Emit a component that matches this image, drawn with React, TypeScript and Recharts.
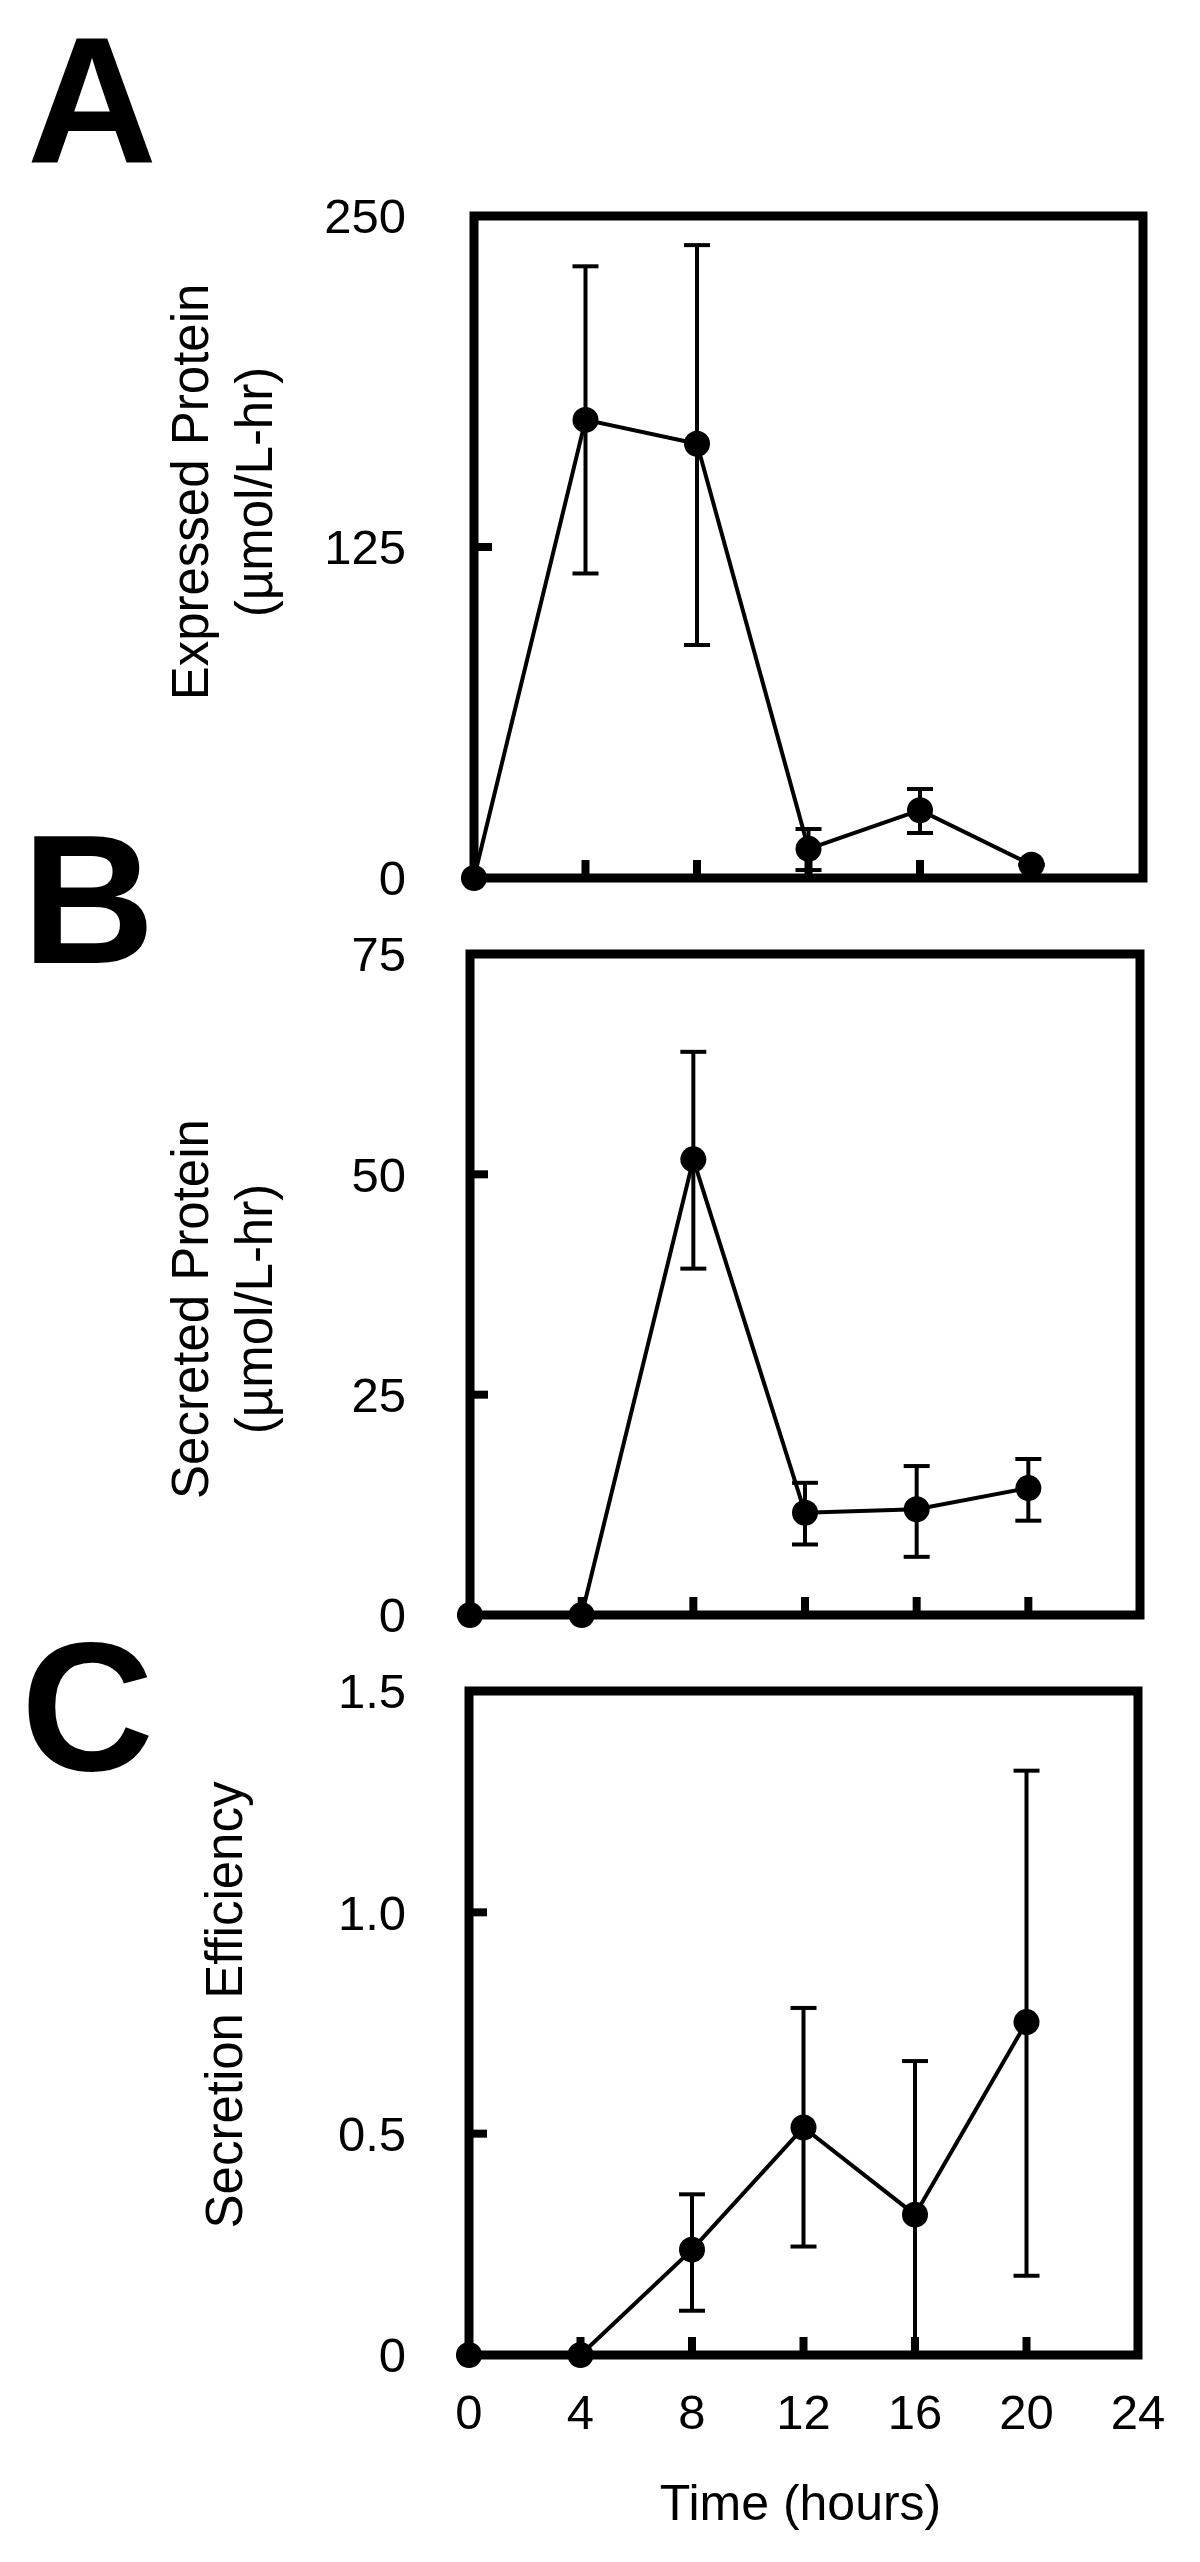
import React from 'react';
import { LineChart, Line, XAxis, YAxis, ErrorBar, ReferenceArea } from 'recharts';

// ---------- data ----------
const timeHours = [0, 4, 8, 12, 16, 20];

const expressedMean = [0, 173, 164, 11, 25.6, 5];
const expressedLow = [0, 115, 88, 3, 17, 5];
const expressedHigh = [0, 231, 239, 18.5, 33.6, 5];

const secretedMean = [0, 0, 51.7, 11.6, 12.0, 14.4];
const secretedLow = [0, 0, 39.3, 8, 6.6, 10.7];
const secretedHigh = [0, 0, 63.9, 15, 16.9, 17.7];

const efficiencyMean = [0, 0, 0.238, 0.514, 0.317, 0.752];
const efficiencyLow = [0, 0, 0.1, 0.245, 0, 0.179];
const efficiencyHigh = [0, 0, 0.363, 0.784, 0.664, 1.32];

const xTicks = [0, 4, 8, 12, 16, 20, 24];
const expressedTicks = [0, 125, 250];
const expressedTickLabels = ['0', '125', '250'];
const secretedTicks = [0, 25, 50, 75];
const secretedTickLabels = ['0', '25', '50', '75'];
const efficiencyTicks = [0, 0.5, 1.0, 1.5];
const efficiencyTickLabels = ['0', '0.5', '1.0', '1.5'];

const panelLetters = ['A', 'B', 'C'];
const expressedTitle = ['Expressed Protein', '(µmol/L-hr)'];
const secretedTitle = ['Secreted Protein', '(µmol/L-hr)'];
const efficiencyTitle = ['Secretion Efficiency'];
const xTitle = 'Time (hours)';

// ---------- styling ----------
const FONT = '"Liberation Sans", Arial, Helvetica, sans-serif';
const TICK_FONT = 49;
const LABEL_FONT = 51;
const FRAME_W = 9;
const TICK_LEN = 18;
const TICK_W = 8;
const LABEL_RIGHT = 406;
const X_LABEL_MARGIN = 39;

type Frame = { left: number; right: number; top: number; bottom: number };

function buildRows(mean: number[], low: number[], high: number[]) {
  return timeHours.map((t, i) => ({
    t,
    mean: mean[i],
    err: [mean[i] - low[i], high[i] - mean[i]],
  }));
}

type PanelProps = {
  data: { t: number; mean: number; err: number[] }[];
  yDomain: [number, number];
  yTicks: number[];
  yTickLabels: string[];
  frame: Frame;
  chartTop: number;
  chartHeight: number;
  showXLabels: boolean;
  titleLines: string[];
  titleBaselines: number[];
  titleCenterY: number;
};

function Panel(p: PanelProps) {
  const { frame, chartTop, chartHeight } = p;
  const yMargin = frame.left - LABEL_RIGHT;
  const xAxisHeight = chartTop + chartHeight - frame.bottom;

  const YTick = (props: any) => {
    const { x, y, payload } = props;
    const idx = p.yTicks.indexOf(payload.value);
    const lx = x + yMargin;
    return (
      <g>
        <line x1={lx} x2={lx + TICK_LEN} y1={y} y2={y} stroke="#000" strokeWidth={TICK_W} />
        <text x={x} y={y} dy="0.355em" textAnchor="end" fontSize={TICK_FONT} fontFamily={FONT} fill="#000">
          {idx >= 0 ? p.yTickLabels[idx] : String(payload.value)}
        </text>
      </g>
    );
  };

  const XTick = (props: any) => {
    const { x, y, payload } = props;
    const ly = y - X_LABEL_MARGIN;
    return (
      <g>
        <line x1={x} x2={x} y1={ly} y2={ly - TICK_LEN} stroke="#000" strokeWidth={TICK_W} />
        {p.showXLabels ? (
          <text x={x} y={y + 35} textAnchor="middle" fontSize={TICK_FONT} fontFamily={FONT} fill="#000">
            {String(payload.value)}
          </text>
        ) : null}
      </g>
    );
  };

  const YTitle = () => {
    const cy = p.titleCenterY - chartTop;
    return (
      <g>
        {p.titleLines.map((line, i) => (
          <text
            key={i}
            x={p.titleBaselines[i]}
            y={cy}
            transform={`rotate(-90, ${p.titleBaselines[i]}, ${cy})`}
            textAnchor="middle"
            fontSize={LABEL_FONT}
            fontFamily={FONT}
            fill="#000"
          >
            {line}
          </text>
        ))}
      </g>
    );
  };

  const XTitle = () => {
    if (!p.showXLabels) return null;
    const cx = (frame.left + frame.right) / 2 - 3;
    const y = 2520 - chartTop;
    return (
      <text x={cx} y={y} textAnchor="middle" fontSize={50} fontFamily={FONT} fill="#000">
        {xTitle}
      </text>
    );
  };

  return (
    <div style={{ position: 'absolute', left: 0, top: chartTop }}>
      <LineChart
        width={1200}
        height={chartHeight}
        data={p.data}
        margin={{ top: frame.top - chartTop, right: 1200 - frame.right, left: 0, bottom: 0 }}
      >
        <ReferenceArea
          x1={0}
          x2={24}
          y1={p.yDomain[0]}
          y2={p.yDomain[1]}
          fill="none"
          stroke="#000"
          strokeWidth={FRAME_W}
          ifOverflow="visible"
        />
        <XAxis
          type="number"
          dataKey="t"
          domain={[0, 24]}
          ticks={xTicks}
          interval={0}
          height={xAxisHeight}
          axisLine={false}
          tickLine={false}
          tickSize={0}
          tickMargin={X_LABEL_MARGIN}
          tick={XTick}
          label={{ content: XTitle }}
        />
        <YAxis
          type="number"
          domain={p.yDomain}
          ticks={p.yTicks}
          interval={0}
          width={frame.left}
          axisLine={false}
          tickLine={false}
          tickSize={0}
          tickMargin={yMargin}
          tick={YTick}
          label={{ content: YTitle }}
        />
        <Line
          dataKey="mean"
          stroke="#000"
          strokeWidth={4}
          dot={{ r: 13, fill: '#000', stroke: '#000', strokeWidth: 0 }}
          activeDot={false}
          isAnimationActive={false}
        >
          <ErrorBar dataKey="err" direction="y" width={13} stroke="#000" strokeWidth={4} isAnimationActive={false} />
        </Line>
      </LineChart>
    </div>
  );
}

export default function App() {
  const letterBaselines = [163, 963, 1770];
  const letterX = [27, 22, 21];
  const letterSizes = [180, 184, 184];
  return (
    <div style={{ position: 'absolute', left: 0, top: 0, width: 1200, height: 2562, background: '#fff' }}>
      <Panel
        data={buildRows(expressedMean, expressedLow, expressedHigh)}
        yDomain={[0, 250]}
        yTicks={expressedTicks}
        yTickLabels={expressedTickLabels}
        frame={{ left: 474, right: 1143, top: 216, bottom: 878 }}
        chartTop={160}
        chartHeight={790}
        showXLabels={false}
        titleLines={expressedTitle}
        titleBaselines={[208, 272]}
        titleCenterY={492}
      />
      <Panel
        data={buildRows(secretedMean, secretedLow, secretedHigh)}
        yDomain={[0, 75]}
        yTicks={secretedTicks}
        yTickLabels={secretedTickLabels}
        frame={{ left: 470, right: 1140, top: 954, bottom: 1615 }}
        chartTop={900}
        chartHeight={790}
        showXLabels={false}
        titleLines={secretedTitle}
        titleBaselines={[208, 272]}
        titleCenterY={1309}
      />
      <Panel
        data={buildRows(efficiencyMean, efficiencyLow, efficiencyHigh)}
        yDomain={[0, 1.5]}
        yTicks={efficiencyTicks}
        yTickLabels={efficiencyTickLabels}
        frame={{ left: 469, right: 1138, top: 1691, bottom: 2355 }}
        chartTop={1640}
        chartHeight={922}
        showXLabels={true}
        titleLines={efficiencyTitle}
        titleBaselines={[242]}
        titleCenterY={2005}
      />
      <svg
        width={1200}
        height={2562}
        style={{ position: 'absolute', left: 0, top: 0, pointerEvents: 'none' }}
      >
        {panelLetters.map((l, i) => (
          <text
            key={l}
            x={letterX[i]}
            y={letterBaselines[i]}
            fontSize={letterSizes[i]}
            fontWeight="bold"
            fontFamily={FONT}
            fill="#000"
          >
            {l}
          </text>
        ))}
      </svg>
    </div>
  );
}
